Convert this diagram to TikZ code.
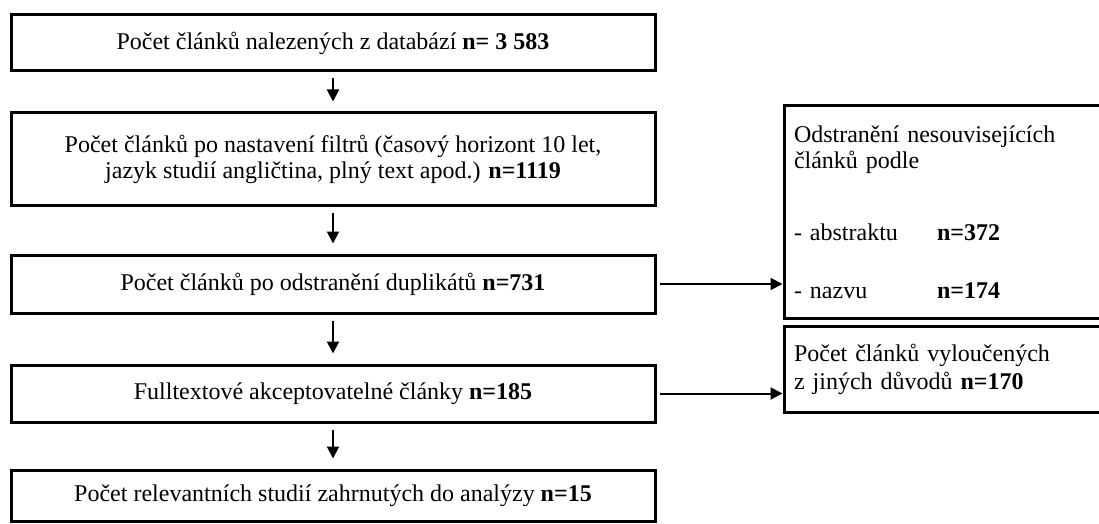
\documentclass[tikz,border=0pt]{standalone}
\usepackage{fontspec}
\setmainfont{Liberation Serif}
\usetikzlibrary{arrows.meta}

\tikzset{
  stagebox/.style={draw, line width=3pt, minimum width=644pt, align=center, inner sep=0pt},
  sidebox/.style={draw, line width=3pt, minimum width=318pt, text width=298pt, align=left, inner sep=0pt},
  flow/.style={line width=2pt, -{Triangle[length=12pt,width=12pt]}},
}

\begin{document}
\begin{tikzpicture}[x=1pt, y=-1pt, font=\fontsize{24}{26}\selectfont]
      \useasboundingbox (0,0) rectangle (1099,524);
      % main column
      \node[stagebox, minimum height=56pt] (found) at (333,43) {Počet článků nalezených z databází \textbf{n= 3 583}};
      \node[stagebox, minimum height=92pt] (filtered) at (333,159) {Počet článků po nastavení filtrů (časový horizont 10 let,\\
            jazyk studií angličtina, plný text apod.) \textbf{n=1119}};
      \node[stagebox, minimum height=58pt] (dedup) at (333,284) {Počet článků po odstranění duplikátů \textbf{n=731}};
      \node[stagebox, minimum height=57pt] (fulltext) at (333,393.5) {Fulltextové akceptovatelné články \textbf{n=185}};
      \node[stagebox, minimum height=51pt] (included) at (333,495.5) {Počet relevantních studií zahrnutých do analýzy \textbf{n=15}};
      % exclusions
      \node[sidebox, minimum height=212pt] (unrelated) at (943,212) {Odstranění nesouvisejících\\
            článků podle\\[46pt]
            \makebox[143pt][l]{- abstraktu}\textbf{n=372}\\[32pt]
            \makebox[143pt][l]{- nazvu}\textbf{n=174}};
      \node[sidebox, minimum height=86pt] (other) at (943,369) {Počet článků vyloučených\\[2pt]
            z jiných důvodů \textbf{n=170}};
      \draw[flow, shorten <=6pt, shorten >=10pt] (found) -- (filtered);
      \draw[flow, shorten <=6pt, shorten >=10pt] (filtered) -- (dedup);
      \draw[flow, shorten <=6pt, shorten >=10pt] (dedup) -- (fulltext);
      \draw[flow, shorten <=6pt, shorten >=10pt] (fulltext) -- (included);
      \draw[flow, shorten <=3pt] (dedup.east) -- (dedup.east -| unrelated.west);
      \draw[flow, shorten <=3pt] (fulltext.east) -- (fulltext.east -| other.west);
\end{tikzpicture}
\end{document}
